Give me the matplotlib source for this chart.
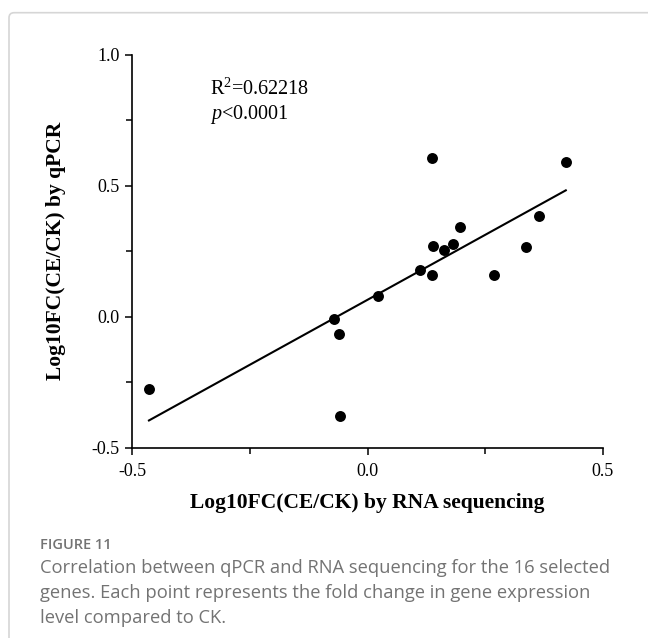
import matplotlib
matplotlib.use("Agg")
import matplotlib.pyplot as plt
import numpy as np
from matplotlib.patches import FancyBboxPatch

# Log10 fold change (CE/CK)
rna_seq = [-0.464, -0.072, -0.061, -0.059, 0.022, 0.111, 0.137, 0.140,
           0.136, 0.162, 0.182, 0.196, 0.269, 0.336, 0.364, 0.421]
qpcr = [-0.277, -0.009, -0.064, -0.379, 0.078, 0.177, 0.161, 0.271,
        0.605, 0.254, 0.278, 0.341, 0.161, 0.268, 0.386, 0.591]

x_ticks = [-0.5, 0.0, 0.5]
y_ticks = [-0.5, 0.0, 0.5, 1.0]
tick_labels_x = ["-0.5", "0.0", "0.5"]
tick_labels_y = ["-0.5", "0.0", "0.5", "1.0"]

caption_title = "FIGURE 11"
caption_lines = [
    "Correlation between qPCR and RNA sequencing for the 16 selected",
    "genes. Each point represents the fold change in gene expression",
    "level compared to CK.",
]

plt.rcParams["font.family"] = ["Liberation Serif", "DejaVu Serif"]
plt.rcParams["mathtext.fontset"] = "custom"
plt.rcParams["mathtext.rm"] = "Liberation Serif"
plt.rcParams["mathtext.it"] = "Liberation Serif:italic"

W, H = 648, 638
fig = plt.figure(figsize=(W / 100, H / 100), dpi=100)

# light frame around the figure panel
frame = FancyBboxPatch((9 / W, -0.2), 1.2, 1.2 - 12.7 / H,
                       boxstyle="round,pad=0,rounding_size=0.008",
                       transform=fig.transFigure, fill=False,
                       edgecolor="#d6d6d6", linewidth=1.2)
fig.patches.append(frame)

left, right, top, bottom = 132, 603, 54.5, 448
ax = fig.add_axes([left / W, 1 - bottom / H, (right - left) / W, (bottom - top) / H])

x = np.array(rna_seq)
y = np.array(qpcr)
ax.scatter(x, y, s=62, color="black", zorder=3, linewidths=0)

# linear fit
slope, intercept = np.polyfit(x, y, 1)
xf = np.array([x.min(), x.max()])
ax.plot(xf, slope * xf + intercept, color="black", linewidth=1.5)

ax.set_xlim(-0.5, 0.5)
ax.set_ylim(-0.5, 1.0)
ax.set_xticks(x_ticks)
ax.set_xticklabels(tick_labels_x)
ax.set_yticks(y_ticks)
ax.set_yticklabels(tick_labels_y)
ax.set_xticks([-0.25, 0.25], minor=True)
ax.set_yticks([-0.25, 0.25, 0.75], minor=True)

for side in ["top", "right"]:
    ax.spines[side].set_visible(False)
for side in ["left", "bottom"]:
    ax.spines[side].set_linewidth(1.2)

ax.tick_params(which="major", direction="out", length=5, width=1.1, labelsize=13)
ax.tick_params(which="minor", direction="out", length=4, width=1.1)
ax.tick_params(axis="x", pad=6)
ax.tick_params(axis="y", pad=4)

ax.set_xlabel("Log10FC(CE/CK) by RNA sequencing", fontsize=15.5, fontweight="bold", va="center")
ax.xaxis.set_label_coords(0.5, -0.14)
ax.set_ylabel("Log10FC(CE/CK) by qPCR", fontsize=15.5, fontweight="bold", va="center")
ax.yaxis.set_label_coords(-0.161, 0.5)

ax.text(-0.334, 0.868, "R$^{2}$=0.62218", fontsize=14.5, va="center", ha="left")
ax.text(-0.334, 0.773, "$p$<0.0001", fontsize=14.5, va="center", ha="left")

fig.text(40 / W, 1 - 545 / H, caption_title, fontsize=10.5, fontweight="semibold",
         color="#737373", family="Open Sans", va="center", ha="left")
for i, line in enumerate(caption_lines):
    fig.text(40 / W, 1 - (568 + 25 * i) / H, line, fontsize=13.2, color="#737373",
             family="Open Sans", va="center", ha="left")

fig.savefig("out.png", dpi=100)
